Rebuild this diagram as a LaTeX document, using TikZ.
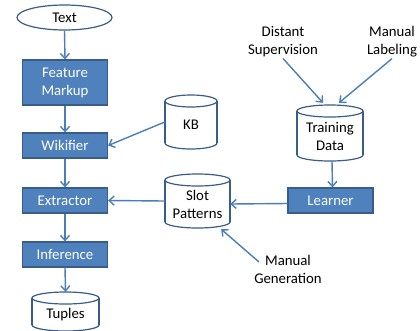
\documentclass[tikz,border=0pt]{standalone}
\usepackage{fontspec}
\setmainfont{Carlito}
\usetikzlibrary{arrows.meta,shapes.geometric}
\definecolor{boxfill}{HTML}{4F81BD}
\definecolor{boxline}{HTML}{385D8A}
\definecolor{arrowc}{HTML}{4A7EBB}
% name, cx, top, bottom, halfwidth, text
\newcommand{\mycyl}[6]{%
  \filldraw[fill=white, draw=boxline, line width=1.2pt] (#2,#4-6) ellipse [x radius=#5pt, y radius=6pt];
  \fill[white] (#2-#5,#3+6) rectangle (#2+#5,#4-6);
  \draw[boxline, line width=1.2pt] (#2-#5,#3+6) -- (#2-#5,#4-6) (#2+#5,#3+6) -- (#2+#5,#4-6);
  \filldraw[fill=white, draw=boxline, line width=1.2pt] (#2,#3+6) ellipse [x radius=#5pt, y radius=6pt];
  \node[inner sep=0pt, minimum width=2*#5pt, minimum height=#4pt-#3pt] (#1) at (#2,{(#3+#4)/2}) {};
  \node[plain] (#1-t) at (#2,{(#3+6+#4)/2}) {#6};
}
\begin{document}
\begin{tikzpicture}[x=1pt,y=-1pt, font=\fontsize{14.8}{18}\selectfont,
  procbox/.style={draw=boxline, fill=boxfill, line width=1.2pt, text=white, minimum width=85pt, align=center, inner sep=0pt},
  conn/.style={draw=arrowc, line width=1.4pt, -{Straight Barb[length=5pt,width=9pt]}},
  plain/.style={align=center, inner sep=0pt}]
\useasboundingbox[fill=white] (0,0) rectangle (420,330);

\node[ellipse, draw=boxline, line width=1.2pt, minimum width=95pt, minimum height=25pt, inner sep=0pt] (txt) at (64.5,17.5) {Text};
\node[procbox, minimum height=45pt] (fm) at (65,82.5) {Feature\\Markup};
\node[procbox, minimum height=25pt] (wik) at (65,145.5) {Wikifier};
\node[procbox, minimum height=25pt] (ext) at (65,200.5) {Extractor};
\node[procbox, minimum height=25pt] (inf) at (65,254.5) {Inference};
\node[procbox, minimum height=25pt] (learner) at (330.5,200.5) {Learner};

\mycyl{tup}{65.5}{292}{331}{33.5}{Tuples}
\mycyl{kb}{191}{95}{149}{26}{KB}
\mycyl{slot}{197.5}{174}{228}{32.5}{Slot\\Patterns}
\mycyl{td}{330}{105}{161}{33}{Training\\Data}

\node[plain] (ds) at (283,42) {Distant\\Supervision};
\node[plain] (ml) at (392,42) {Manual\\Labeling};
\node[plain] (mg) at (288,269) {Manual\\Generation};
\coordinate (mgstart) at (259,262);

\draw[conn] (txt.south) -- (fm.north);
\draw[conn] (fm.south) -- (wik.north);
\draw[conn] (wik.south) -- (ext.north);
\draw[conn] (ext.south) -- (inf.north);
\draw[conn] (inf.south) -- (tup.north);
\draw[conn] (kb.west) -- (wik.east);
\draw[conn] (slot.west) -- (ext.east);
\draw[conn] ([yshift=-3pt]learner.west) -- ([yshift=-3pt]slot.east);
\draw[conn] ([xshift=2pt]td.south) -- ([xshift=2pt]learner.north);
\draw[conn] ([yshift=-1pt]ds.south) -- ([xshift=-7pt,yshift=2pt]td.north);
\draw[conn] ([yshift=-1pt]ml.south) -- ([xshift=9pt,yshift=2pt]td.north);
\draw[conn] (mgstart) -- ([xshift=-9pt,yshift=-1pt]slot.south east);
\end{tikzpicture}
\end{document}
